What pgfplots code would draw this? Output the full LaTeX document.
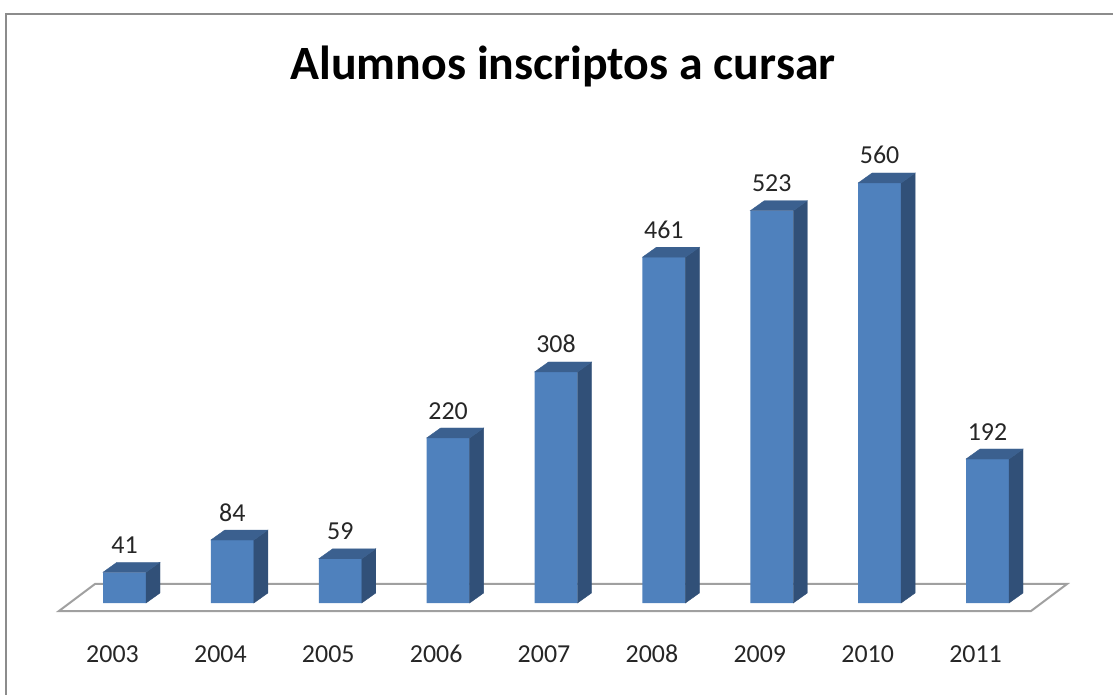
\documentclass[border=0pt]{standalone}
\usepackage{pgfplots}
\pgfplotsset{compat=1.18}
\usepackage{fontspec}
\setmainfont{Carlito}

\definecolor{barfront}{HTML}{4F81BD}
\definecolor{barside}{HTML}{315078}
\definecolor{bartop}{HTML}{3B608F}
\definecolor{floorgray}{HTML}{A0A0A0}
\definecolor{framegray}{HTML}{8C8C8C}

\pgfdeclareplotmark{empty}{}

\pgfplotstableread{
idx v
0 41
1 84
2 59
3 220
4 308
5 461
6 523
7 560
8 192
}\inscriptos

\begin{document}
\begin{tikzpicture}
% page = 1113 x 695 px, 1px = 1bp, origin at bottom centre of first bar
\path[use as bounding box] (-124.5bp,-92bp) rectangle (988.5bp,603bp);

% outer frame (only top and left edges fall inside the picture)
\draw[framegray, line width=2bp] (-118.5bp,-200bp) -- (-118.5bp,589bp) -- (1100bp,589bp);

% floor of the 3D chart
\draw[floorgray, line width=2bp, line join=miter]
  (-65.5bp,-8bp) -- (906.5bp,-8bp) -- (942.5bp,19bp) -- (-29.5bp,19bp) -- cycle;

\node[anchor=base, font=\bfseries\fontsize{48}{48}\selectfont]
  at (438.5bp,523bp) {Alumnos inscriptos a cursar};

\begin{axis}[
    at={(0,0)}, anchor=origin,
    x=107.875bp, y=0.75bp,
    xmin=-1, xmax=9,
    ymin=0, ymax=600,
    clip=false,
    axis line style={draw=none},
    major tick length=0pt,
    ytick=\empty,
    xtick={0,1,2,3,4,5,6,7,8},
    xticklabels={2003,2004,2005,2006,2007,2008,2009,2010,2011},
    xticklabel style={anchor=base, xshift=-12bp, yshift=-59bp,
        font=\fontsize{26}{26}\selectfont, text=black!85},
    /pgf/number format/assume math mode=true,
]
% front faces
\addplot[ybar, bar width=43bp, bar shift=0pt, fill=barfront, draw=none,
    nodes near coords,
    every node near coord/.append style={anchor=base, yshift=19bp,
        font=\fontsize{26}{26}\selectfont, text=black!85}]
  table[x=idx, y=v] {\inscriptos};
% top and side faces
\addplot[scatter, only marks, mark=empty,
    visualization depends on={\thisrow{v} \as \val},
    scatter/@pre marker code/.code={
      \fill[barside] (21.5bp,0bp) -- ++(14bp,10bp) -- ++(0bp,-\val*0.75bp)
          -- ++(-14bp,-10bp) -- cycle;
      \fill[bartop] (-21.5bp,0bp) -- ++(14bp,10bp) -- ++(43bp,0bp)
          -- ++(-14bp,-10bp) -- cycle;
    },
    scatter/@post marker code/.code={}]
  table[x=idx, y=v] {\inscriptos};
\end{axis}
\end{tikzpicture}
\end{document}
